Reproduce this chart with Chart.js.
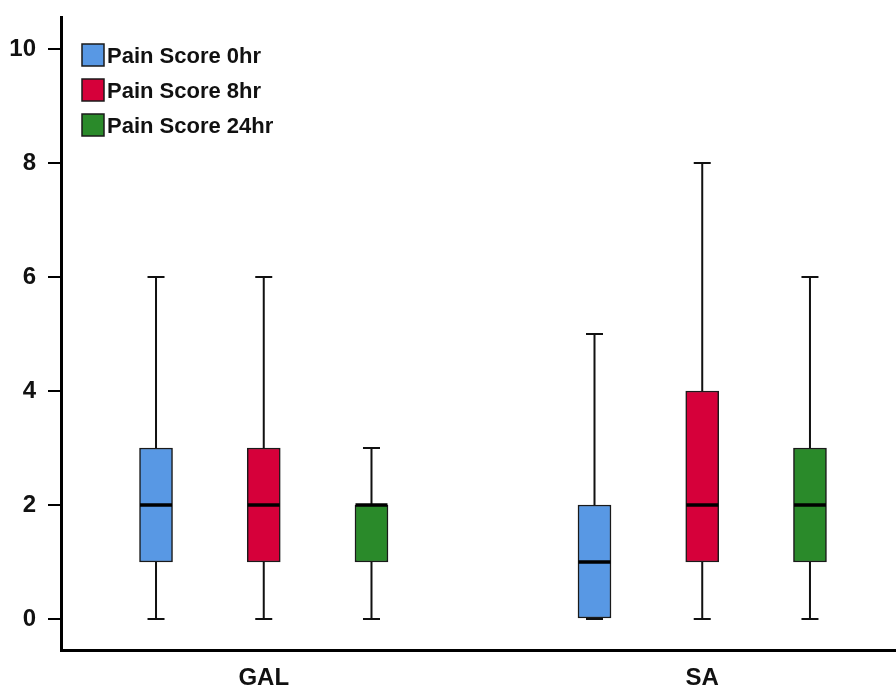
<!DOCTYPE html>
<html>
<head>
<meta charset="utf-8">
<script src="https://cdn.jsdelivr.net/npm/chart.js@4/dist/chart.umd.min.js"></script>
<style>
html,body{margin:0;padding:0;background:#fff;}
#wrap{width:896px;height:688px;position:relative;}
</style>
</head>
<body>
<div id="wrap"><canvas id="c" width="896" height="688"></canvas></div>
<script>
// ---- data ----
const groups = ["GAL", "SA"];
const seriesNames = ["Pain Score 0hr", "Pain Score 8hr", "Pain Score 24hr"];
// per series: values for [GAL, SA]
const mins    = [[0, 0], [0, 0], [0, 0]];
const q1s     = [[1, 0], [1, 1], [1, 1]];
const medians = [[2, 1], [2, 2], [2, 2]];
const q3s     = [[3, 2], [3, 4], [2, 3]];
const maxs    = [[6, 5], [6, 8], [3, 6]];
const yTicks  = [0, 2, 4, 6, 8, 10];

// ---- styling ----
const colors = ["#5898E4", "#D6003A", "#2A8A2A"];
const seriesOffset = [-0.2457, 0, 0.2457];
const FONT = "'Liberation Sans', Arial, sans-serif";

const datasets = seriesNames.map((name, s) => ({
  label: name,
  data: groups.map((g, gi) => ({ x: gi + seriesOffset[s], y: [q1s[s][gi], q3s[s][gi]] })),
  backgroundColor: colors[s],
  borderColor: "#1a1a1a",
  borderWidth: 1.5,
  borderSkipped: false,
  barThickness: 33,
  grouped: false
}));

const boxPlugin = {
  id: "boxWhiskers",
  beforeDatasetsDraw(chart) {
    const ctx = chart.ctx, xs = chart.scales.x, ys = chart.scales.y;
    ctx.save();
    ctx.strokeStyle = "#111";
    ctx.lineWidth = 2;
    seriesNames.forEach((n, s) => {
      groups.forEach((g, gi) => {
        const px = xs.getPixelForValue(gi + seriesOffset[s]);
        const pMin = ys.getPixelForValue(mins[s][gi]);
        const pMax = ys.getPixelForValue(maxs[s][gi]);
        const pQ1 = ys.getPixelForValue(q1s[s][gi]);
        const pQ3 = ys.getPixelForValue(q3s[s][gi]);
        ctx.beginPath();
        ctx.moveTo(px, pMin); ctx.lineTo(px, pQ1);
        ctx.moveTo(px, pQ3); ctx.lineTo(px, pMax);
        ctx.moveTo(px - 8.5, pMin); ctx.lineTo(px + 8.5, pMin);
        ctx.moveTo(px - 8.5, pMax); ctx.lineTo(px + 8.5, pMax);
        ctx.stroke();
      });
    });
    ctx.restore();
  },
  afterDatasetsDraw(chart) {
    const ctx = chart.ctx, xs = chart.scales.x, ys = chart.scales.y;
    ctx.save();
    ctx.strokeStyle = "#000";
    ctx.lineWidth = 3.5;
    seriesNames.forEach((n, s) => {
      groups.forEach((g, gi) => {
        const px = xs.getPixelForValue(gi + seriesOffset[s]);
        const pm = ys.getPixelForValue(medians[s][gi]);
        ctx.beginPath();
        ctx.moveTo(px - 16, pm); ctx.lineTo(px + 16, pm);
        ctx.stroke();
      });
    });
    ctx.restore();
  },
  afterDraw(chart) {
    const ctx = chart.ctx;
    ctx.save();
    const x0 = 82, y0 = 44, size = 22, gap = 35;
    chart.data.datasets.forEach((ds, i) => {
      const y = y0 + i * gap;
      ctx.fillStyle = ds.backgroundColor;
      ctx.fillRect(x0, y, size, size);
      ctx.strokeStyle = "#1a1a1a";
      ctx.lineWidth = 1.5;
      ctx.strokeRect(x0, y, size, size);
      ctx.fillStyle = "#111";
      ctx.font = "bold 22px " + FONT;
      ctx.textBaseline = "middle";
      ctx.textAlign = "left";
      ctx.fillText(ds.label, x0 + size + 3, y + size / 2 + 2);
    });
    ctx.restore();
  }
};

new Chart(document.getElementById("c"), {
  type: "bar",
  data: { datasets },
  plugins: [boxPlugin],
  options: {
    responsive: false,
    animation: false,
    layout: { padding: { top: 17, right: 0, left: 0, bottom: 0 } },
    plugins: { legend: { display: false }, tooltip: { enabled: false } },
    scales: {
      x: {
        type: "linear",
        offset: false,
        min: -0.4624,
        max: 1.4419,
        afterBuildTicks: (sc) => { sc.ticks = groups.map((g, i) => ({ value: i })); },
        afterFit: (sc) => { sc.height = 38; sc.paddingLeft = 0; sc.paddingRight = 0; },
        ticks: {
          callback: (v) => groups[v],
          color: "#111",
          font: { family: FONT, size: 24, weight: "bold" },
          padding: 14,
          autoSkip: false,
          maxRotation: 0
        },
        grid: { display: false, drawTicks: false },
        border: { display: true, color: "#000", width: 3 }
      },
      y: {
        type: "linear",
        min: -0.544,
        max: 10.56,
        afterBuildTicks: (sc) => { sc.ticks = yTicks.map(v => ({ value: v })); },
        afterFit: (sc) => { sc.width = 61; sc.paddingTop = 0; sc.paddingBottom = 0; },
        ticks: {
          color: "#111",
          font: { family: FONT, size: 24, weight: "bold" },
          padding: 12
        },
        grid: { display: true, drawOnChartArea: false, drawTicks: true, tickLength: 13, color: "#000", lineWidth: 2 },
        border: { display: true, color: "#000", width: 3 }
      }
    }
  }
});
</script>
</body>
</html>
